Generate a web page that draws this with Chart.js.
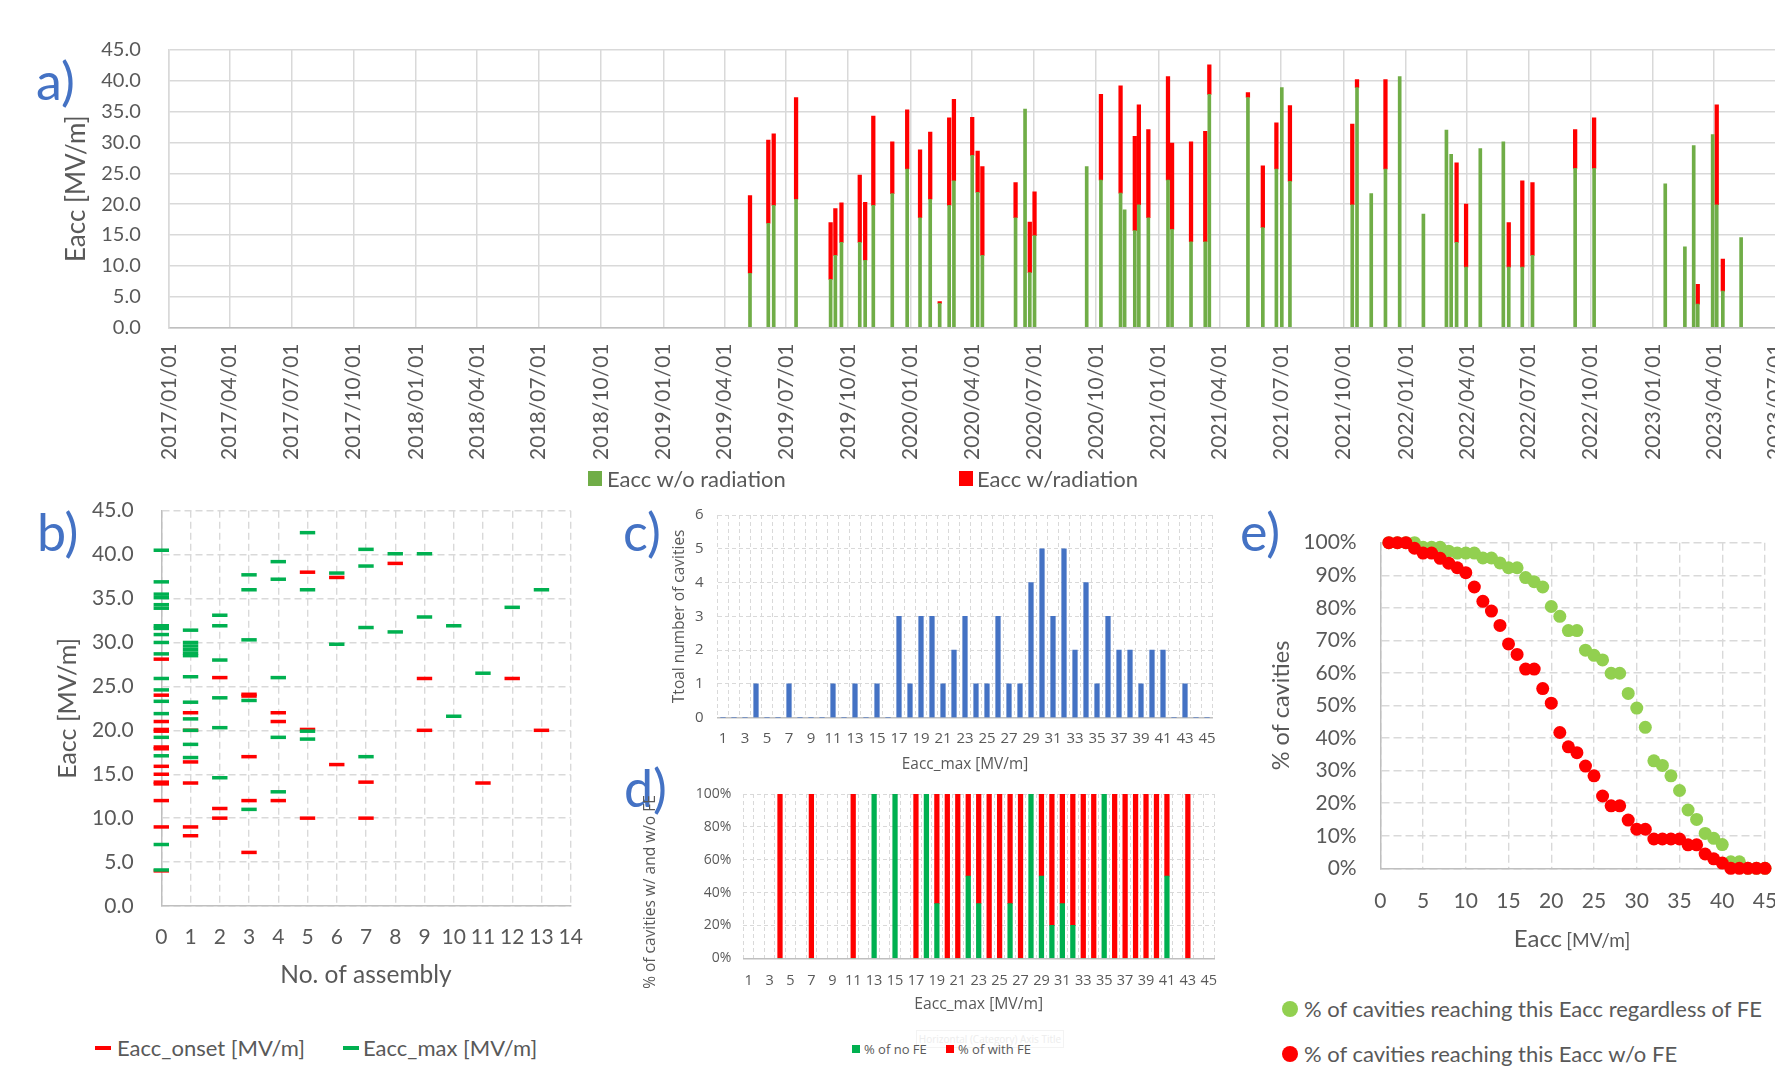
<!DOCTYPE html>
<html>
<head>
<meta charset="utf-8">
<script src="https://cdn.jsdelivr.net/npm/chart.js@4.4.1/dist/chart.umd.min.js"></script>
<style>
  html, body { margin: 0; padding: 0; width: 1775px; height: 1073px; overflow: hidden; background: #fff; }
  body { position: relative; font-family: Lato, sans-serif; color: #595959; }
  canvas { position: absolute; }
  .tag { position: absolute; color: #4472C4; font-family: Lato, sans-serif; font-size: 52px; line-height: 1; }
  .txt { position: absolute; white-space: nowrap; color: #595959; }
  .sw { position: absolute; }
  .vtitle { position: absolute; white-space: nowrap; color: #595959; transform: translate(-50%, -50%) rotate(-90deg); }
</style>
</head>
<body>

<canvas id="chartA" width="1878" height="470" style="left:0;top:0"></canvas>
<canvas id="chartB" width="620" height="520" style="left:0;top:490px"></canvas>
<canvas id="chartC" width="605" height="280" style="left:620px;top:500px"></canvas>
<canvas id="chartD" width="605" height="250" style="left:620px;top:780px"></canvas>
<canvas id="chartE" width="575" height="430" style="left:1230px;top:525px"></canvas>

<div class="tag" style="left:36px;top:54px">a)</div>
<div class="tag" style="left:37px;top:505px">b)</div>
<div class="tag" style="left:623px;top:505px">c)</div>
<div class="tag" style="left:624px;top:761px">d)</div>
<div class="tag" style="left:1240px;top:505px">e)</div>

<!-- legend, panel a -->
<div class="sw" style="left:588px;top:471px;width:14px;height:15px;background:#70AD47"></div>
<div class="txt" style="left:607px;top:466px;font-size:22px;line-height:26px">Eacc w/o radiation</div>
<div class="sw" style="left:959px;top:471px;width:14px;height:15px;background:#FF0000"></div>
<div class="txt" style="left:977px;top:466px;font-size:22px;line-height:26px">Eacc w/radiation</div>

<!-- legend, panel b -->
<div class="sw" style="left:95px;top:1046px;width:16px;height:4px;background:#FF0000"></div>
<div class="txt" style="left:117px;top:1035px;font-size:22px;line-height:26px">Eacc_onset [MV/m]</div>
<div class="sw" style="left:343px;top:1046px;width:16px;height:4px;background:#00B050"></div>
<div class="txt" style="left:363px;top:1035px;font-size:22px;line-height:26px">Eacc_max [MV/m]</div>

<!-- value axis title and legend, panel d -->
<div class="vtitle" style="left:649px;top:892px;font-family:'Open Sans';font-size:15.5px;line-height:18px">% of cavities w/ and w/o FE</div>
<div class="txt" style="left:916px;top:1030px;width:146px;height:16px;border:1px solid #f3f3f3;color:#ededed;font-family:'Open Sans';font-size:10px;line-height:16px;text-align:center">Horizontal (Category) Axis Title</div>
<div class="sw" style="left:852px;top:1045px;width:8px;height:8px;background:#00B050"></div>
<div class="txt" style="left:864px;top:1040px;font-family:'Open Sans';font-size:13px;line-height:18px">% of no FE</div>
<div class="sw" style="left:946px;top:1045px;width:8px;height:8px;background:#FF0000"></div>
<div class="txt" style="left:958px;top:1040px;font-family:'Open Sans';font-size:13px;line-height:18px">% of with FE</div>

<!-- axis title and legend, panel e -->
<div class="txt" style="left:1472px;top:922px;width:200px;text-align:center;line-height:32px"><span style="font-size:24px">Eacc</span> <span style="font-size:19px">[MV/m]</span></div>
<div class="sw" style="left:1282px;top:1001px;width:16px;height:16px;border-radius:50%;background:#92D050"></div>
<div class="txt" style="left:1304px;top:995px;font-size:22px;line-height:27px">% of cavities reaching this Eacc regardless of FE</div>
<div class="sw" style="left:1282px;top:1046px;width:16px;height:16px;border-radius:50%;background:#FF0000"></div>
<div class="txt" style="left:1304px;top:1040px;font-size:22px;line-height:27px">% of cavities reaching this Eacc w/o FE</div>

<script>
// ---- a) vertical test history: Eacc reached without / with radiation ----
const testDates = [
  '2019/05/09','2019/06/05','2019/06/13','2019/07/16','2019/09/05','2019/09/12','2019/09/21','2019/10/18','2019/10/26','2019/11/07','2019/12/05','2019/12/27',
  '2020/01/15','2020/01/30','2020/02/13','2020/02/27','2020/03/05','2020/04/01','2020/04/09','2020/04/16','2020/06/04','2020/06/18','2020/06/25','2020/07/02','2020/09/17','2020/10/08','2020/11/06','2020/11/12','2020/11/27','2020/12/03','2020/12/17',
  '2021/01/15','2021/01/21','2021/02/18','2021/03/11','2021/03/17','2021/05/13','2021/06/04','2021/06/24','2021/07/02','2021/07/14','2021/10/14','2021/10/21','2021/11/11','2021/12/02','2021/12/23',
  '2022/01/27','2022/03/02','2022/03/09','2022/03/17','2022/03/31','2022/04/21','2022/05/25','2022/06/02','2022/06/22','2022/07/07','2022/09/08','2022/10/06',
  '2023/01/19','2023/02/17','2023/03/02','2023/03/08','2023/03/30','2023/04/05','2023/04/14','2023/05/11'
];
const eaccNoRad = [
  8.8, 16.9, 19.8, 20.8, 7.8, 11.7, 13.8, 13.8, 10.9, 19.8, 21.7, 25.7,
  17.8, 20.8, 3.9, 19.8, 23.8, 27.9, 21.9, 11.7, 17.8, 35.4, 8.9, 14.9, 26.1, 23.9, 21.8, 19.1, 15.7, 19.9, 17.8,
  23.9, 15.9, 13.9, 13.9, 37.8, 37.3, 16.2, 25.7, 38.9, 23.7, 19.9, 38.9, 21.7, 25.7, 40.7,
  18.4, 32.0, 28.1, 13.8, 9.8, 29.0, 30.1, 9.8, 9.8, 11.7, 25.8, 25.8,
  23.3, 13.1, 29.5, 3.8, 31.3, 19.9, 5.9, 14.6
];
const eaccRad = [
  21.4, 30.4, 31.4, 37.3, 17.0, 19.3, 20.2, 24.7, 20.3, 34.3, 30.1, 35.3,
  28.8, 31.7, 4.2, 34.0, 37.0, 34.1, 28.6, 26.1, 23.5, null, 17.1, 22.0, null, 37.8, 39.2, null, 31.0, 36.1, 32.1,
  40.7, 29.9, 30.1, 31.8, 42.6, 38.1, 26.2, 33.2, null, 36.0, 33.0, 40.2, null, 40.2, null,
  null, null, null, 26.7, 20.0, null, null, 17.0, 23.8, 23.5, 32.1, 34.0,
  null, null, null, 7.0, null, 36.1, 11.1, null
];
const quarterLabels = [
  '2017/01/01','2017/04/01','2017/07/01','2017/10/01','2018/01/01','2018/04/01','2018/07/01','2018/10/01',
  '2019/01/01','2019/04/01','2019/07/01','2019/10/01','2020/01/01','2020/04/01','2020/07/01','2020/10/01',
  '2021/01/01','2021/04/01','2021/07/01','2021/10/01','2022/01/01','2022/04/01','2022/07/01','2022/10/01',
  '2023/01/01','2023/04/01','2023/07/01','2023/10/01'
];

// ---- b) Eacc per number of assemblies ----
const onsetAssembly = [0,0,0,0,0,0,0,0,0,0,0,0,0,0, 1,1,1,1,1,1, 2,2,2, 3,3,3,3,3, 4,4,4, 5,5,5, 6,6, 7,7, 8, 9,9, 11, 12, 13];
const onsetEacc     = [28.1,24.0,21.0,20.1,19.9,18.1,17.9,15.9,15.0,14.1,13.9,12.0,9.0,4.0,
                       22.0,20.0,16.4,14.0,9.0,8.0, 26.0,11.1,10.0, 24.1,23.9,17.0,12.0,6.1,
                       22.0,21.0,12.0, 38.0,20.1,10.0, 37.4,16.1, 14.1,10.0, 39.0, 25.9,20.0, 14.0, 25.9, 20.0];
const maxAssembly   = [0,0,0,0,0,0,0,0,0,0,0,0,0,0,0,0,0,0,0, 1,1,1,1,1,1,1,1,1,1,1,1, 2,2,2,2,2,2,
                       3,3,3,3,3, 4,4,4,4,4, 5,5,5,5, 6,6, 7,7,7,7, 8,8, 9,9, 10,10, 11, 12, 13];
const maxEacc       = [40.5,36.9,35.5,35.1,34.3,33.9,31.9,31.6,30.9,30.0,28.7,25.9,24.6,23.3,21.9,19.2,17.1,7.0,4.1,
                       31.4,30.0,29.6,29.2,28.8,28.5,26.1,23.2,21.3,20.0,18.4,16.9, 33.1,31.9,28.0,23.7,20.3,14.6,
                       37.7,36.0,30.3,23.4,11.0, 39.2,37.2,26.0,19.2,13.0, 42.5,36.0,19.9,19.0, 37.9,29.8,
                       40.6,38.7,31.7,17.0, 40.1,31.2, 40.1,32.9, 31.9,21.6, 26.5, 34.0, 36.0];

// ---- c) / d) distribution of Eacc_max ----
const eaccBins = ['1','2','3','4','5','6','7','8','9','10','11','12','13','14','15','16','17','18','19','20','21','22','23',
                  '24','25','26','27','28','29','30','31','32','33','34','35','36','37','38','39','40','41','42','43','44','45'];
const cavityCounts = [0,0,0,1,0,0,1,0,0,0,1,0,1,0,1,0,3,1,3,3,1,2,3,1,1,3,1,1,4,5,3,5,2,4,1,3,2,2,1,2,2,0,1,0,0];
const pctNoFE   = [null,null,null,0,null,null,0,null,null,null,0,null,100,null,100,null,0,100,33.3,0,0,50,33.3,0,0,33.3,0,100,
                   50,20,33.3,20,0,0,100,0,0,0,0,0,50,null,0,null,null];
const pctWithFE = [null,null,null,100,null,null,100,null,null,null,100,null,0,null,0,null,100,0,66.7,100,100,50,66.7,100,100,66.7,100,0,
                   50,80,66.7,80,100,100,0,100,100,100,100,100,50,null,100,null,null];

// ---- e) share of cavities reaching a given Eacc ----
const eaccLevels = [1,2,3,4,5,6,7,8,9,10,11,12,13,14,15,16,17,18,19,20,21,22,23,24,25,26,27,28,29,30,31,32,33,34,35,36,37,38,39,40,41,42,43,44,45];
const pctReachAll = [100,100,100,100,98.6,98.6,98.6,97.4,96.8,96.8,96.8,95.3,95.3,93.8,92.3,92.3,89.3,88.0,86.4,80.4,77.4,73.0,73.0,
                     67.0,65.4,64.0,59.9,59.9,53.7,49.2,43.3,33.0,31.6,28.4,23.9,17.9,15.0,10.7,9.2,7.3,2.0,2.0,0,0,0];
const pctReachNoFE = [100,100,100,98.3,96.8,96.8,95.2,93.7,92.3,90.8,86.4,82.0,79.0,74.6,68.9,65.7,61.2,61.2,55.2,50.7,41.7,37.3,35.5,
                      31.4,28.4,22.2,19.2,19.2,14.8,12.0,12.0,9.0,9.0,9.0,9.0,7.2,7.2,4.4,2.9,1.6,0,0,0,0,0];

Chart.defaults.font.family = 'Lato';
Chart.defaults.color = '#595959';
Chart.defaults.animation = false;
Chart.defaults.events = [];
Chart.defaults.plugins.legend.display = false;
Chart.defaults.plugins.tooltip.enabled = false;

const GRID = '#d9d9d9';
const AXIS = '#bfbfbf';

// grid settings: the gap between axis and labels is an invisible tick mark
const grid = (gap, width, extra) => Object.assign(
  { color: GRID, lineWidth: width, drawTicks: true, tickLength: gap, tickColor: 'rgba(0,0,0,0)' }, extra || {});

// days since 2017/01/01
const dayOf = s => {
  const p = s.split('/').map(Number);
  return Math.round((Date.UTC(p[0], p[1] - 1, p[2]) - Date.UTC(2017, 0, 1)) / 864e5);
};
const quarterDays = quarterLabels.map(dayOf);

// a)
new Chart(document.getElementById('chartA'), {
  type: 'bar',
  data: {
    datasets: [
      {
        label: 'Eacc w/o radiation',
        data: testDates.map((d, i) => ({ x: dayOf(d), y: eaccNoRad[i] })),
        backgroundColor: '#70AD47', barThickness: 3, grouped: false
      },
      {
        label: 'Eacc w/radiation',
        data: testDates.map((d, i) => eaccRad[i] == null ? null : ({ x: dayOf(d), y: [eaccNoRad[i], eaccRad[i]] })).filter(p => p),
        backgroundColor: '#FF0000', barThickness: 3.6, grouped: false
      }
    ]
  },
  options: {
    responsive: false, devicePixelRatio: 1,
    layout: { padding: { top: 50, right: 40, bottom: 0, left: 0 } },
    scales: {
      x: {
        type: 'linear', min: 0, max: quarterDays[quarterDays.length - 1], offset: false,
        grid: grid(16, 1.5, { offset: false }),
        border: { color: AXIS, width: 1.5 },
        afterBuildTicks: s => { s.ticks = quarterDays.map(v => ({ value: v })); },
        afterFit: s => { s.height = 470 - 327.5; },
        ticks: {
          autoSkip: false, minRotation: 90, maxRotation: 90, padding: 0, font: { size: 21 },
          callback: v => { const k = quarterDays.indexOf(v); return k >= 0 ? quarterLabels[k] : ''; }
        }
      },
      y: {
        min: 0, max: 45,
        ticks: { stepSize: 5, padding: 0, font: { size: 20 }, callback: v => v.toFixed(1) },
        grid: grid(28, 1.5),
        border: { color: GRID, width: 1.5 },
        title: { display: true, text: 'Eacc [MV/m]', font: { size: 26 }, padding: { top: 61.4, bottom: 0 } },
        afterFit: s => { s.width = 168.75; }
      }
    }
  }
});

// b)
new Chart(document.getElementById('chartB'), {
  type: 'scatter',
  data: {
    datasets: [
      {
        label: 'Eacc_onset [MV/m]', order: 1, clip: false,
        data: onsetAssembly.map((a, i) => ({ x: a, y: onsetEacc[i] })),
        pointStyle: 'line', pointRadius: 7.7, borderColor: '#FF0000', pointBorderWidth: 3.5, backgroundColor: '#FF0000'
      },
      {
        label: 'Eacc_max [MV/m]', order: 0, clip: false,
        data: maxAssembly.map((a, i) => ({ x: a, y: maxEacc[i] })),
        pointStyle: 'line', pointRadius: 7.7, borderColor: '#00B050', pointBorderWidth: 3.5, backgroundColor: '#00B050'
      }
    ]
  },
  options: {
    responsive: false, devicePixelRatio: 1,
    layout: { padding: { top: 20.7, right: 49.3, bottom: 0, left: 0 } },
    scales: {
      x: {
        type: 'linear', min: 0, max: 14,
        ticks: { stepSize: 1, padding: 0, autoSkip: false, maxRotation: 0, font: { size: 21 } },
        grid: grid(19, 1.4),
        border: { color: AXIS, width: 1.5, dash: [7, 4] },
        title: { display: true, text: 'No. of assembly', font: { size: 24.5 }, padding: { top: 0, bottom: 20.3 } },
        afterFit: s => { s.height = 104; }
      },
      y: {
        min: 0, max: 45,
        ticks: { stepSize: 5, padding: 0, font: { size: 21 }, callback: v => v.toFixed(1) },
        grid: grid(27.7, 1.4),
        border: { color: AXIS, width: 1.5, dash: [7, 4] },
        title: { display: true, text: 'Eacc [MV/m]', font: { size: 25 }, padding: { top: 52.7, bottom: 0 } },
        afterFit: s => { s.width = 161.3; }
      }
    }
  }
});

const oddOnly = function (v, i) { return i % 2 === 0 ? this.getLabelForValue(v) : ''; };

// c)
new Chart(document.getElementById('chartC'), {
  type: 'bar',
  data: {
    labels: eaccBins,
    datasets: [{ label: 'Ttoal number of cavities', data: cavityCounts, backgroundColor: '#4472C4', barThickness: 4.6 }]
  },
  options: {
    responsive: false, devicePixelRatio: 1,
    layout: { padding: { top: 15, right: 12.5, bottom: 0, left: 0 } },
    scales: {
      x: {
        ticks: { autoSkip: false, maxRotation: 0, padding: 0, font: { family: 'Open Sans', size: 15 }, callback: oddOnly },
        grid: grid(12, 1),
        border: { color: AXIS, width: 1.5, dash: [4, 3] },
        title: { display: true, text: 'Eacc_max [MV/m]', font: { family: 'Open Sans', size: 15.4 }, padding: { top: 0, bottom: 5.8 } },
        afterFit: s => { s.height = 280 - 217.7; }
      },
      y: {
        min: 0, max: 6,
        ticks: { stepSize: 1, padding: 0, font: { family: 'Open Sans', size: 15 } },
        grid: grid(14, 1),
        border: { display: false, dash: [4, 3] },
        title: { display: true, text: 'Ttoal number of cavities', font: { family: 'Open Sans', size: 15.5 }, padding: { top: 50.7, bottom: 0 } },
        afterFit: s => { s.width = 97.5; }
      }
    }
  }
});

// d)
new Chart(document.getElementById('chartD'), {
  type: 'bar',
  data: {
    labels: eaccBins,
    datasets: [
      { label: '% of no FE', data: pctNoFE, backgroundColor: '#00B050', barThickness: 4.6 },
      { label: '% of with FE', data: pctWithFE, backgroundColor: '#FF0000', barThickness: 4.6 }
    ]
  },
  options: {
    responsive: false, devicePixelRatio: 1,
    layout: { padding: { top: 14, right: 11, bottom: 0, left: 0 } },
    scales: {
      x: {
        stacked: true,
        ticks: { autoSkip: false, maxRotation: 0, padding: 0, font: { family: 'Open Sans', size: 14.5 }, callback: oddOnly },
        grid: grid(14, 1),
        border: { color: AXIS, width: 1.5, dash: [4, 3] },
        title: { display: true, text: 'Eacc_max [MV/m]', font: { family: 'Open Sans', size: 15.7 }, padding: { top: 0, bottom: 15.6 } },
        afterFit: s => { s.height = 250 - 178.3; }
      },
      y: {
        stacked: true, min: 0, max: 100,
        ticks: { stepSize: 20, padding: 0, font: { family: 'Open Sans', size: 14 }, callback: v => v + '%' },
        grid: grid(12, 1),
        border: { display: false, dash: [4, 3] },
        afterFit: s => { s.width = 123.4; }
      }
    }
  }
});

// e)
new Chart(document.getElementById('chartE'), {
  type: 'scatter',
  data: {
    datasets: [
      {
        label: '% of cavities reaching this Eacc regardless of FE', order: 1, clip: false,
        data: eaccLevels.map((e, i) => ({ x: e, y: pctReachAll[i] })),
        pointRadius: 6.5, pointBorderWidth: 0, backgroundColor: '#92D050', borderColor: '#92D050'
      },
      {
        label: '% of cavities reaching this Eacc w/o FE', order: 0, clip: false,
        data: eaccLevels.map((e, i) => ({ x: e, y: pctReachNoFE[i] })),
        pointRadius: 6.5, pointBorderWidth: 0, backgroundColor: '#FF0000', borderColor: '#FF0000'
      }
    ]
  },
  options: {
    responsive: false, devicePixelRatio: 1,
    layout: { padding: { top: 17.7, right: 40, bottom: 0, left: 0 } },
    scales: {
      x: {
        type: 'linear', min: 0, max: 45,
        ticks: { stepSize: 5, padding: 0, font: { size: 21 } },
        grid: grid(20, 1.4),
        border: { color: AXIS, width: 1.5, dash: [8, 4] },
        afterFit: s => { s.height = 430 - 343.3; }
      },
      y: {
        min: 0, max: 100,
        ticks: { stepSize: 10, padding: 0, font: { size: 21 }, callback: v => v + '%' },
        grid: grid(23.6, 1.4),
        border: { color: AXIS, width: 1.5, dash: [8, 4] },
        title: { display: true, text: '% of cavities', font: { size: 23.5 }, padding: { top: 36.9, bottom: 0 } },
        afterFit: s => { s.width = 150.3; }
      }
    }
  }
});
</script>
</body>
</html>
